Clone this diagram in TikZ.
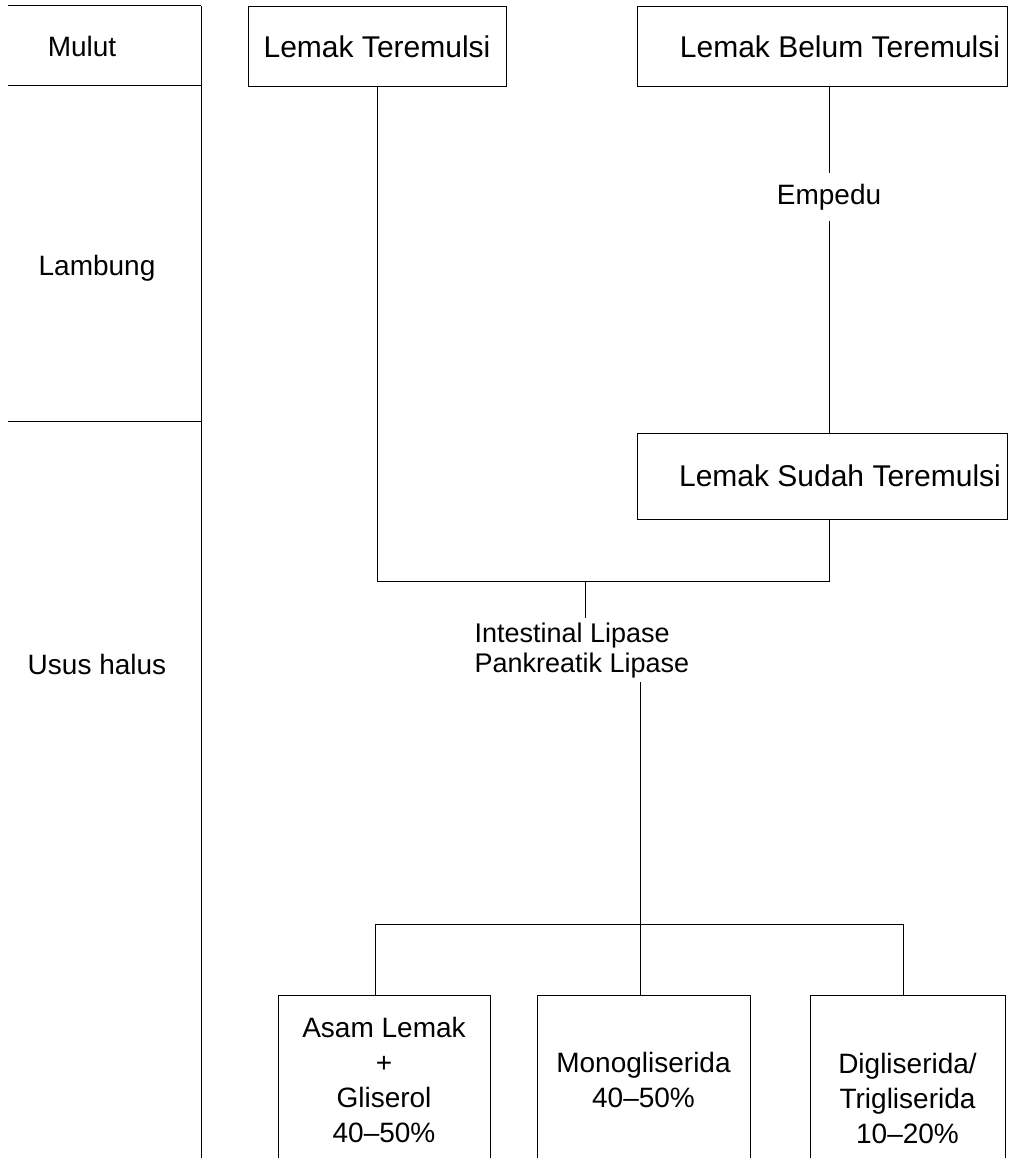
\documentclass[tikz,border=0pt]{standalone}
\usepackage{fontspec}
\setmainfont{Liberation Sans}
\usepackage{xcolor}
\usetikzlibrary{positioning}

\begin{document}
\begin{tikzpicture}[x=1pt, y=-1pt, line width=1pt,
  every node/.style={font=\fontsize{28}{35}\selectfont},
  box/.style={draw, inner sep=0pt, minimum height=80pt, font=\fontsize{30}{36}\selectfont},
  obox/.style={draw, inner sep=0pt, align=center, minimum width=212pt, minimum height=170pt}]
\clip (0,0) rectangle (1010,1158);

% Organ column
\node (mulut) at (82,46) {Mulut};
\node (lambung) at (97,268) {Lambung};
\node (usus) at (97,664) {Usus halus};
\draw (8,6) -- (201,6);
\draw (8,86) -- (201,86);
\draw (8,421) -- (201,421);
\draw (201,6) -- (201,1158);

% Emulsi
\node[box, minimum width=258pt] (trm) at (377,46.5) {Lemak Teremulsi};
\node[box, minimum width=370pt] (blm) at (822,46.5) {\hspace*{36pt}Lemak Belum Teremulsi};
\node[inner sep=10pt] (emp) at (829,197) {Empedu};
\node[box, minimum width=370pt, minimum height=86pt] (sdh) at (822,476) {\hspace*{36pt}Lemak Sudah Teremulsi};
\draw (blm.south -| emp) -- (emp.north);
\draw (emp.south) -- (sdh.north -| emp);

% Lipase
\coordinate (jn) at (585,581.5);
\node[anchor=north west, align=left, inner xsep=0pt, inner ysep=4pt,
  font=\fontsize{27}{30}\selectfont] (lip) at (474,618) {Intestinal Lipase\\Pankreatik Lipase};
\draw (trm.south) |- (jn) -| (sdh.south -| emp);
\draw (jn) -- (jn |- lip.north);

% Hasil
\coordinate (br) at (640,924);
\coordinate (bl) at (375,924);
\coordinate (brr) at (903,924);
\node[obox] (asm) at (384,1080) {Asam Lemak\\+\\Gliserol\\40--50\%};
\node[obox, minimum width=213pt] (mono) at (643.5,1080) {Monogliserida\\40--50\%};
\node[obox, minimum width=195pt, minimum height=206pt] (dig) at (907.5,1098) {Digliserida/\\Trigliserida\\10--20\%};
\draw (lip.south -| br) -- (br);
\draw (bl |- asm.north) -- (bl) -- (brr) -- (brr |- dig.north);
\draw (br) -- (br |- mono.north);
\end{tikzpicture}
\end{document}
